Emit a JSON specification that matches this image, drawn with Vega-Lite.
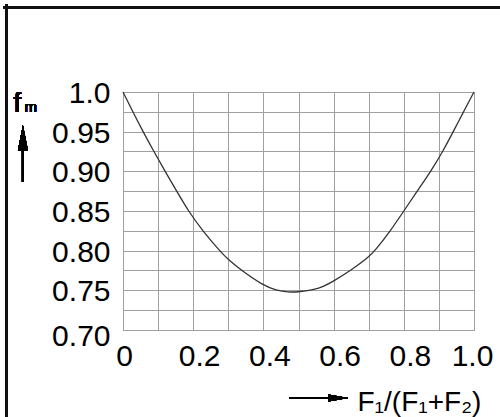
{
  "$schema": "https://vega.github.io/schema/vega-lite/v6.json",
  "autosize": {"type": "none"},
  "width": 351,
  "height": 238,
  "padding": {"left": 123, "top": 92, "right": 26, "bottom": 87},
  "background": "white",
  "config": {
    "view": {"stroke": "#a0a0a0", "strokeWidth": 1},
    "axis": {
      "labelFont": "Liberation Sans",
      "labelFontSize": 30,
      "labelColor": "#000",
      "labelFlush": false,
      "labelOverlap": false,
      "tickCount": 100,
      "ticks": false,
      "domain": false,
      "gridColor": "#a0a0a0",
      "gridOpacity": 1,
      "gridWidth": 1,
      "titleFont": "Liberation Sans",
      "titleFontWeight": "normal",
      "titleColor": "#000"
    }
  },
  "data": {
    "values": [
      {"x": 0.0, "f": 1.0},
      {"x": 0.028, "f": 0.975},
      {"x": 0.057, "f": 0.95},
      {"x": 0.088, "f": 0.925},
      {"x": 0.12, "f": 0.9},
      {"x": 0.153, "f": 0.875},
      {"x": 0.186, "f": 0.85},
      {"x": 0.227, "f": 0.825},
      {"x": 0.275, "f": 0.8},
      {"x": 0.3, "f": 0.7885},
      {"x": 0.338, "f": 0.775},
      {"x": 0.4, "f": 0.756},
      {"x": 0.437, "f": 0.75},
      {"x": 0.47, "f": 0.7476},
      {"x": 0.5, "f": 0.7479},
      {"x": 0.561, "f": 0.752},
      {"x": 0.6, "f": 0.7617},
      {"x": 0.649, "f": 0.775},
      {"x": 0.7, "f": 0.7917},
      {"x": 0.718, "f": 0.8},
      {"x": 0.762, "f": 0.825},
      {"x": 0.8, "f": 0.85},
      {"x": 0.838, "f": 0.875},
      {"x": 0.877, "f": 0.9},
      {"x": 0.911, "f": 0.925},
      {"x": 0.941, "f": 0.95},
      {"x": 0.97, "f": 0.975},
      {"x": 1.0, "f": 1.0}
    ]
  },
  "layer": [
    {
      "mark": {"type": "line", "color": "#333", "strokeWidth": 1.3, "interpolate": "basis"},
      "encoding": {
        "x": {
          "field": "x", "type": "quantitative",
          "scale": {"domain": [0, 1], "nice": false},
          "axis": {
            "values": [0, 0.1, 0.2, 0.3, 0.4, 0.5, 0.6, 0.7, 0.8, 0.9, 1.0],
            "labelExpr": "round(datum.value*10) % 2 == 0 ? (datum.value == 0 ? '0' : format(datum.value, '.1f')) : ''",
            "labelPadding": 26,
            "labelBaseline": "middle",
            "labelOffset": {"condition": [{"test": "datum.value >= 1", "value": -2}, {"test": "datum.value <= 0", "value": 1}], "value": 6},
            "title": "F₁/(F₁+F₂)",
            "titleFontSize": 28,
            "titleAlign": "left",
            "titleBaseline": "alphabetic",
            "titleX": 234,
            "titleY": 80
          }
        },
        "y": {
          "field": "f", "type": "quantitative",
          "scale": {"domain": [0.7, 1.0], "nice": false, "zero": false},
          "axis": {
            "values": [0.7, 0.725, 0.75, 0.775, 0.8, 0.825, 0.85, 0.875, 0.9, 0.925, 0.95, 0.975, 1.0],
            "labelExpr": "round(datum.value*1000) % 50 == 0 ? (datum.value == 1 ? '1.0' : format(datum.value, '.2f')) : ''",
            "labelPadding": 13,
            "labelOffset": {"condition": {"test": "datum.value <= 0.7", "value": 6}, "value": 1.5},
            "title": null
          }
        }
      }
    },
    {
      "mark": {"type": "rule", "color": "#111", "strokeWidth": 2},
      "encoding": {
        "x": {"datum": -0.34, "type": "quantitative"},
        "x2": {"datum": 1.2},
        "y": {"datum": 1.1067, "type": "quantitative"}
      }
    },
    {
      "mark": {"type": "rule", "color": "#111", "strokeWidth": 2},
      "encoding": {
        "x": {"datum": -0.3316, "type": "quantitative"},
        "y": {"datum": 1.11, "type": "quantitative"},
        "y2": {"datum": 0.5}
      }
    },
    {
      "mark": {"type": "rule", "color": "#000", "strokeWidth": 2},
      "encoding": {
        "x": {"datum": 0.4753, "type": "quantitative"},
        "x2": {"datum": 0.61},
        "y": {"datum": 0.6144, "type": "quantitative"}
      }
    },
    {
      "mark": {"type": "point", "shape": "M-1,-0.35L1,0L-1,0.35Z", "size": 400, "filled": true, "color": "#000", "opacity": 1},
      "encoding": {
        "x": {"datum": 0.613, "type": "quantitative"},
        "y": {"datum": 0.6144, "type": "quantitative"}
      }
    },
    {
      "mark": {"type": "rule", "color": "#000", "strokeWidth": 2},
      "encoding": {
        "x": {"datum": -0.2851, "type": "quantitative"},
        "y": {"datum": 0.93, "type": "quantitative"},
        "y2": {"datum": 0.8867}
      }
    },
    {
      "mark": {"type": "point", "shape": "M0,-1L0.4,1L-0.4,1Z", "size": 625, "filled": true, "color": "#000", "opacity": 1},
      "encoding": {
        "x": {"datum": -0.2851, "type": "quantitative"},
        "y": {"datum": 0.9424, "type": "quantitative"}
      }
    },
    {
      "mark": {"type": "text", "text": "f", "font": "Liberation Sans", "fontSize": 27, "align": "left", "baseline": "alphabetic", "color": "#000"},
      "encoding": {
        "x": {"datum": -0.3117, "type": "quantitative"},
        "y": {"datum": 0.9745, "type": "quantitative"}
      }
    },
    {
      "mark": {"type": "text", "text": "m", "font": "Liberation Sans", "fontSize": 15, "align": "left", "baseline": "alphabetic", "color": "#000"},
      "encoding": {
        "x": {"datum": -0.2803, "type": "quantitative"},
        "y": {"datum": 0.9745, "type": "quantitative"}
      }
    }
  ]
}
